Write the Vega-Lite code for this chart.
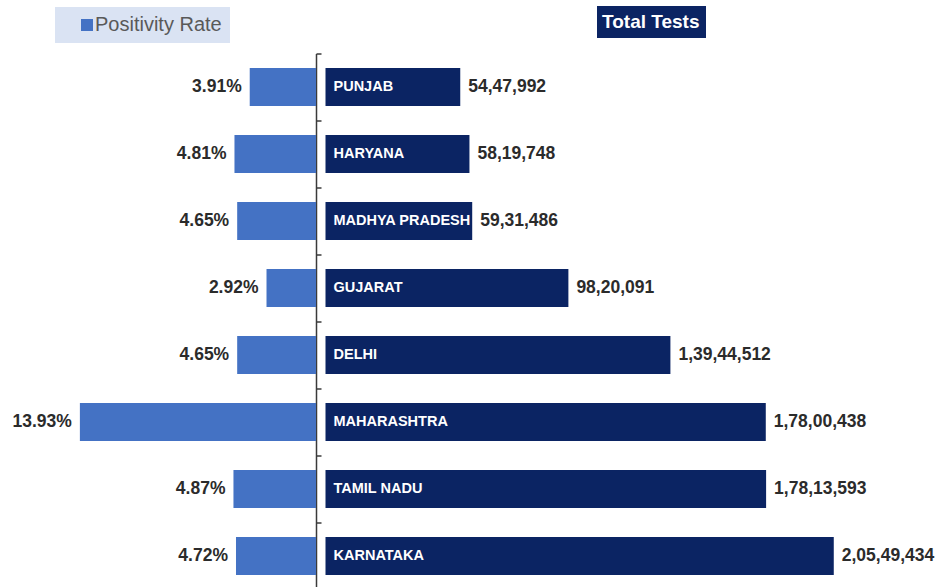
{
  "$schema": "https://vega.github.io/schema/vega-lite/v6.json",
  "width": 941,
  "height": 536,
  "autosize": "none",
  "padding": {"left": 0, "top": 53.5, "right": 0, "bottom": 0},
  "background": "white",
  "config": {
    "view": {"stroke": null},
    "font": "Liberation Sans",
    "locale": {"number": {"decimal": ".", "thousands": ",", "grouping": [3, 2, 2, 2, 2, 2], "currency": ["₹", ""]}}
  },
  "data": {
    "values": [
      {"state": "PUNJAB", "positivity": 0.0391, "tests": 5447992},
      {"state": "HARYANA", "positivity": 0.0481, "tests": 5819748},
      {"state": "MADHYA PRADESH", "positivity": 0.0465, "tests": 5931486},
      {"state": "GUJARAT", "positivity": 0.0292, "tests": 9820091},
      {"state": "DELHI", "positivity": 0.0465, "tests": 13944512},
      {"state": "MAHARASHTRA", "positivity": 0.1393, "tests": 17800438},
      {"state": "TAMIL NADU", "positivity": 0.0487, "tests": 17813593},
      {"state": "KARNATAKA", "positivity": 0.0472, "tests": 20549434}
    ]
  },
  "encoding": {
    "y": {
      "field": "state",
      "type": "nominal",
      "sort": null,
      "scale": {"paddingInner": 0.433, "paddingOuter": 0.2165},
      "axis": {
        "orient": "left",
        "offset": -316,
        "labels": false,
        "title": null,
        "grid": false,
        "domain": true,
        "domainColor": "#3a3a3a",
        "domainWidth": 1.5,
        "ticks": true,
        "tickSize": -5,
        "tickColor": "#3a3a3a",
        "tickWidth": 1.5,
        "bandPosition": 0,
        "tickOffset": -14.5
      }
    }
  },
  "layer": [
    {
      "encoding": {
        "x": {
          "field": "positivity",
          "type": "quantitative",
          "scale": {"domain": [-0.36873, 0.18643], "reverse": true, "nice": false, "zero": false},
          "axis": null
        }
      },
      "layer": [
        {
          "mark": {"type": "bar"},
          "encoding": {
            "color": {
              "datum": "Positivity Rate",
              "type": "nominal",
              "scale": {"domain": ["Positivity Rate"], "range": ["#4472C4"]},
              "legend": {
                "orient": "none",
                "legendX": 55,
                "legendY": -46.5,
                "title": null,
                "fillColor": "#dae3f3",
                "padding": 8,
                "symbolType": "square",
                "symbolSize": 144,
                "symbolStrokeWidth": 0,
                "symbolOffset": 14,
                "labelOffset": -2,
                "labelFontSize": 20,
                "labelColor": "#595959",
                "labelFont": "Liberation Sans",
                "labelLimit": 400
              }
            }
          }
        },
        {
          "mark": {"type": "text", "align": "right", "baseline": "middle", "dx": -8, "fontSize": 17.5, "fontWeight": "bold", "color": "#2b2b2b"},
          "encoding": {"text": {"field": "positivity", "type": "quantitative", "format": ".2%"}}
        }
      ]
    },
    {
      "encoding": {
        "x": {
          "field": "tests",
          "type": "quantitative",
          "scale": {"domain": [-13159965, 24884665], "nice": false, "zero": false},
          "axis": null
        }
      },
      "layer": [
        {
          "mark": {"type": "bar"},
          "encoding": {
            "color": {
              "datum": "Total Tests",
              "type": "nominal",
              "scale": {"domain": ["Total Tests"], "range": ["#0b2463"]},
              "legend": {
                "orient": "none",
                "legendX": 597,
                "legendY": -47.5,
                "title": null,
                "fillColor": "#0b2463",
                "padding": 6,
                "symbolSize": 0,
                "symbolOpacity": 0,
                "symbolStrokeWidth": 0,
                "labelOffset": -20,
                "labelFontSize": 19,
                "labelFontWeight": "bold",
                "labelColor": "white",
                "labelFont": "Liberation Sans",
                "labelLimit": 400
              }
            }
          }
        },
        {
          "mark": {"type": "text", "align": "left", "baseline": "middle", "dx": 8, "fontSize": 17.5, "fontWeight": "bold", "color": "#2b2b2b"},
          "encoding": {"text": {"field": "tests", "type": "quantitative", "format": ",d"}}
        },
        {
          "mark": {"type": "text", "align": "left", "baseline": "middle", "dx": 8, "fontSize": 14.5, "fontWeight": "bold", "color": "white"},
          "encoding": {"x": {"datum": 0}, "text": {"field": "state", "type": "nominal"}}
        }
      ]
    }
  ],
  "resolve": {"scale": {"x": "independent", "color": "independent"}, "legend": {"color": "independent"}}
}
